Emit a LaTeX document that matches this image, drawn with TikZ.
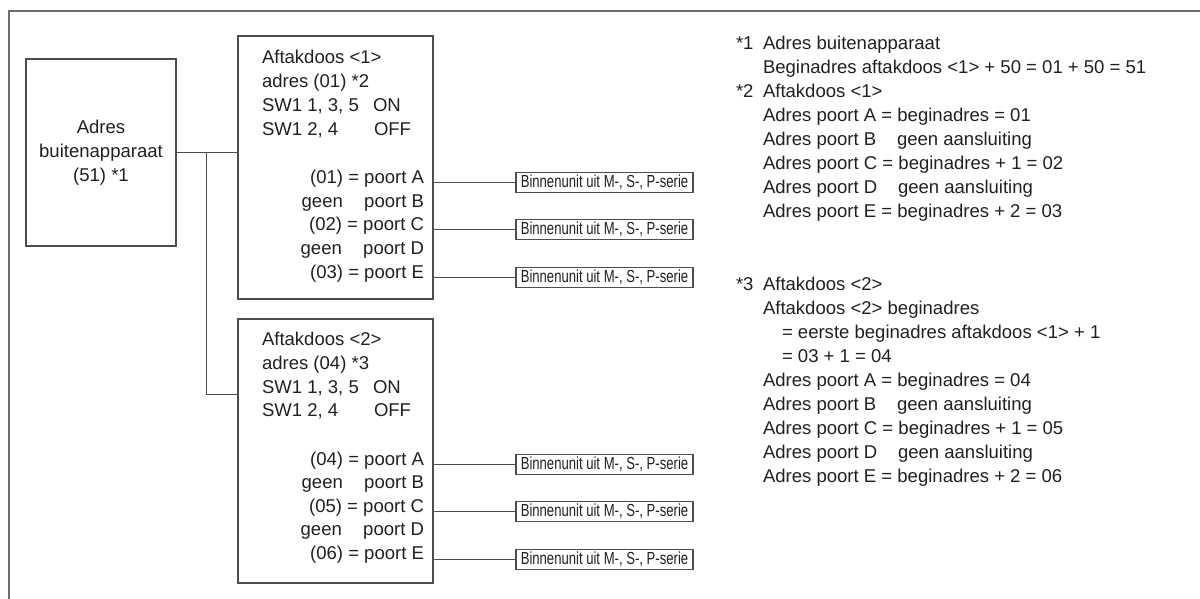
\documentclass[tikz,border=0pt]{standalone}
\usepackage{fontspec}
\setmainfont{Liberation Sans}
\newfontfamily\narrowfont[FakeStretch=0.75]{Liberation Sans}
\definecolor{ink}{HTML}{231F20}
\definecolor{linec}{HTML}{4D4D4D}
\definecolor{framec}{HTML}{6E6E6E}
\begin{document}
\begin{tikzpicture}[x=0.75pt,y=-0.75pt,
  txt/.style={inner sep=0pt, outer sep=0pt, text=ink, font=\fontsize{13.9pt}{18pt}\selectfont},
  lt/.style={txt, anchor=base west},
  rt/.style={txt, anchor=base east},
  ct/.style={txt, anchor=base},
  outerframe/.style={draw=framec, line width=0.9pt},
  boxst/.style={draw=linec, line width=0.8pt, inner sep=0pt, outer sep=0pt},
  unitbox/.style={draw=linec, line width=0.8pt, minimum width=132.75pt, minimum height=15.5pt, inner sep=0pt, outer sep=0pt, text=ink, font=\narrowfont\fontsize{13.1pt}{14pt}\selectfont},
  wire/.style={draw=linec, line width=0.8pt}]
\useasboundingbox (0,0) rectangle (1200,599);
\draw[outerframe] (1200,11) -- (9,11) -- (9,599);

% main boxes
\node[boxst, minimum width=112.5pt, minimum height=140.25pt] (outdoor) at (101,152.5) {};
\node[boxst, minimum width=146.25pt, minimum height=197.25pt] (box1) at (335.5,167.5) {};
\node[boxst, minimum width=146.25pt, minimum height=198pt] (box2) at (335.5,451) {};

% outdoor text
\node[ct] (o1) at (101,134) {Adres};
\node[ct] (o2) at (101,158) {buitenapparaat};
\node[ct] (o3) at (101,182) {(51) *1};

% box1 text
\node[lt] (a1) at (262,64) {Aftakdoos <1>};
\node[lt] (a2) at (262,88) {adres (01) *2};
\node[lt] (a3) at (262,112) {SW1 1, 3, 5};
\node[lt] (a3b) at (373,112) {ON};
\node[lt] (a4) at (262,135.5) {SW1 2, 4};
\node[lt] (a4b) at (374,135.5) {OFF};
\node[rt] (pa1) at (424,184) {(01) = poort A};
\node[rt] (pb1) at (424,207.5) {geen\hspace{16pt}poort B};
\node[rt] (pc1) at (424,231) {(02) = poort C};
\node[rt] (pd1) at (424,254.5) {geen\hspace{16pt}poort D};
\node[rt] (pe1) at (424,278) {(03) = poort E};

% box2 text
\node[lt] (b1) at (262,345) {Aftakdoos <2>};
\node[lt] (b2) at (262,369) {adres (04) *3};
\node[lt] (b3) at (262,393) {SW1 1, 3, 5};
\node[lt] (b3b) at (373,393) {ON};
\node[lt] (b4) at (262,416.5) {SW1 2, 4};
\node[lt] (b4b) at (374,416.5) {OFF};
\node[rt] (pa2) at (424,465) {(04) = poort A};
\node[rt] (pb2) at (424,488.5) {geen\hspace{16pt}poort B};
\node[rt] (pc2) at (424,512) {(05) = poort C};
\node[rt] (pd2) at (424,535.5) {geen\hspace{16pt}poort D};
\node[rt] (pe2) at (424,559) {(06) = poort E};

% indoor units
\node[unitbox] (u1a) at (604.5,182.5) {Binnenunit uit M-, S-, P-serie};
\node[unitbox] (u1c) at (604.5,229.5) {Binnenunit uit M-, S-, P-serie};
\node[unitbox] (u1e) at (604.5,277.5) {Binnenunit uit M-, S-, P-serie};
\node[unitbox] (u2a) at (604.5,464.5) {Binnenunit uit M-, S-, P-serie};
\node[unitbox] (u2c) at (604.5,511.5) {Binnenunit uit M-, S-, P-serie};
\node[unitbox] (u2e) at (604.5,559.5) {Binnenunit uit M-, S-, P-serie};

% connectors
\coordinate (j1) at (206.5,152.5);
\coordinate (j2) at (206.5,394.5);
\draw[wire] (outdoor.east) -- (outdoor.east -| box1.west);
\draw[wire] (j1) -- (j2) -- (j2 -| box2.west);
\foreach \u in {u1a,u1c,u1e}{\draw[wire] (\u.west -| box1.east) -- (\u.west);}
\foreach \u in {u2a,u2c,u2e}{\draw[wire] (\u.west -| box2.east) -- (\u.west);}

% notes
\node[lt] (n1) at (736,50) {*1};
\node[lt] (n1a) at (763,50) {Adres buitenapparaat};
\node[lt] (n1b) at (763,74) {Beginadres aftakdoos <1> + 50 = 01 + 50 = 51};
\node[lt] (n2) at (736,98) {*2};
\node[lt] (n2a) at (763,98) {Aftakdoos <1>};
\node[lt] (n2b) at (763,122) {Adres poort A = beginadres = 01};
\node[lt] (n2c) at (763,146) {Adres poort B};
\node[lt] (n2cc) at (897,146) {geen aansluiting};
\node[lt] (n2d) at (763,170) {Adres poort C = beginadres + 1 = 02};
\node[lt] (n2e) at (763,194) {Adres poort D};
\node[lt] (n2ee) at (898,194) {geen aansluiting};
\node[lt] (n2f) at (763,218) {Adres poort E = beginadres + 2 = 03};

\node[lt] (n3) at (736,290) {*3};
\node[lt] (n3a) at (763,290) {Aftakdoos <2>};
\node[lt] (n3b) at (763,314) {Aftakdoos <2> beginadres};
\node[lt] (n3c) at (782,338) {= eerste beginadres aftakdoos <1> + 1};
\node[lt] (n3d) at (782,362) {= 03 + 1 = 04};
\node[lt] (n3e) at (763,386) {Adres poort A = beginadres = 04};
\node[lt] (n3f) at (763,410) {Adres poort B};
\node[lt] (n3ff) at (897,410) {geen aansluiting};
\node[lt] (n3g) at (763,434) {Adres poort C = beginadres + 1 = 05};
\node[lt] (n3h) at (763,458) {Adres poort D};
\node[lt] (n3hh) at (898,458) {geen aansluiting};
\node[lt] (n3i) at (763,482) {Adres poort E = beginadres + 2 = 06};
\end{tikzpicture}
\end{document}
